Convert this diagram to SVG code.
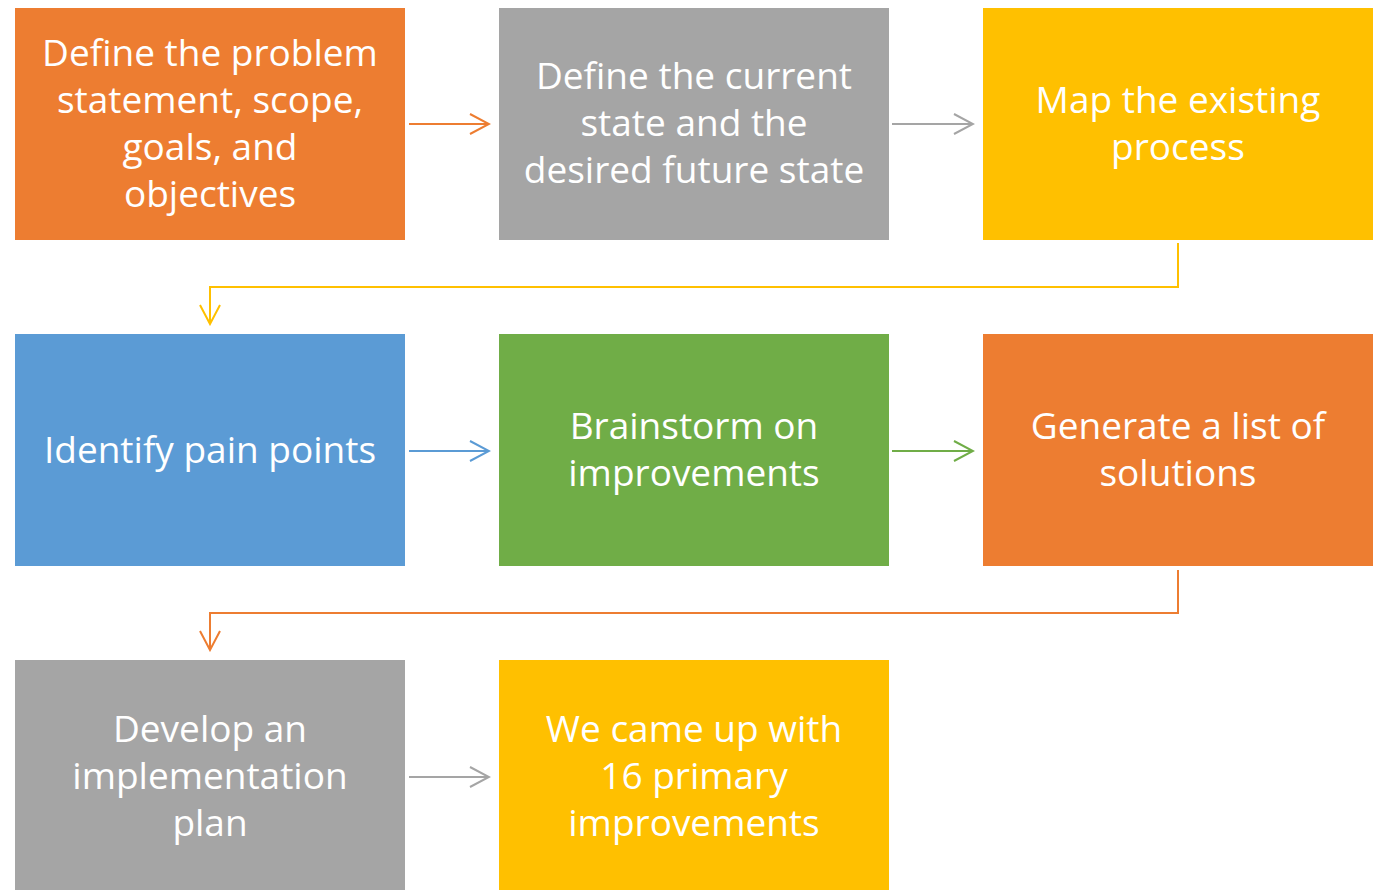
<svg xmlns="http://www.w3.org/2000/svg" width="1384" height="890" viewBox="0 0 1384 890">
  <style>
    .lbl { font-family: "Open Sans", "Liberation Sans", sans-serif; font-size: 37px; fill: #ffffff; text-anchor: middle; }
    .conn { fill: none; stroke-width: 2; }
  </style>
  <defs>
    <marker id="ah-orange" viewBox="0 0 22 22" refX="20" refY="11" markerWidth="22" markerHeight="22" markerUnits="userSpaceOnUse" orient="auto">
      <path d="M1,1 L20,11 L1,21" fill="none" stroke="#ED7D31" stroke-width="2"/>
    </marker>
    <marker id="ah-gray" viewBox="0 0 22 22" refX="20" refY="11" markerWidth="22" markerHeight="22" markerUnits="userSpaceOnUse" orient="auto">
      <path d="M1,1 L20,11 L1,21" fill="none" stroke="#A5A5A5" stroke-width="2"/>
    </marker>
    <marker id="ah-yellow" viewBox="0 0 22 22" refX="20" refY="11" markerWidth="22" markerHeight="22" markerUnits="userSpaceOnUse" orient="auto">
      <path d="M1,1 L20,11 L1,21" fill="none" stroke="#FFC000" stroke-width="2"/>
    </marker>
    <marker id="ah-blue" viewBox="0 0 22 22" refX="20" refY="11" markerWidth="22" markerHeight="22" markerUnits="userSpaceOnUse" orient="auto">
      <path d="M1,1 L20,11 L1,21" fill="none" stroke="#5B9BD5" stroke-width="2"/>
    </marker>
    <marker id="ah-green" viewBox="0 0 22 22" refX="20" refY="11" markerWidth="22" markerHeight="22" markerUnits="userSpaceOnUse" orient="auto">
      <path d="M1,1 L20,11 L1,21" fill="none" stroke="#70AD47" stroke-width="2"/>
    </marker>
  </defs>

  <rect width="1384" height="890" fill="#ffffff"/>

  <!-- Row 1 -->
  <g id="define-problem">
    <rect x="15" y="8" width="390" height="232" fill="#ED7D31"/>
    <text class="lbl" x="210" y="66">Define the problem</text>
    <text class="lbl" x="210" y="113">statement, scope,</text>
    <text class="lbl" x="210" y="160">goals, and</text>
    <text class="lbl" x="210" y="207">objectives</text>
  </g>
  <g id="define-state">
    <rect x="499" y="8" width="390" height="232" fill="#A5A5A5"/>
    <text class="lbl" x="694" y="89">Define the current</text>
    <text class="lbl" x="694" y="136">state and the</text>
    <text class="lbl" x="694" y="183">desired future state</text>
  </g>
  <g id="map-process">
    <rect x="983" y="8" width="390" height="232" fill="#FFC000"/>
    <text class="lbl" x="1178" y="113">Map the existing</text>
    <text class="lbl" x="1178" y="160">process</text>
  </g>

  <!-- Row 2 -->
  <g id="pain-points">
    <rect x="15" y="334" width="390" height="232" fill="#5B9BD5"/>
    <text class="lbl" x="210" y="463">Identify pain points</text>
  </g>
  <g id="brainstorm">
    <rect x="499" y="334" width="390" height="232" fill="#70AD47"/>
    <text class="lbl" x="694" y="439">Brainstorm on</text>
    <text class="lbl" x="694" y="486">improvements</text>
  </g>
  <g id="solutions">
    <rect x="983" y="334" width="390" height="232" fill="#ED7D31"/>
    <text class="lbl" x="1178" y="439">Generate a list of</text>
    <text class="lbl" x="1178" y="486">solutions</text>
  </g>

  <!-- Row 3 -->
  <g id="implementation-plan">
    <rect x="15" y="660" width="390" height="232" fill="#A5A5A5"/>
    <text class="lbl" x="210" y="742">Develop an</text>
    <text class="lbl" x="210" y="789">implementation</text>
    <text class="lbl" x="210" y="836">plan</text>
  </g>
  <g id="primary-improvements">
    <rect x="499" y="660" width="390" height="232" fill="#FFC000"/>
    <text class="lbl" x="694" y="742">We came up with</text>
    <text class="lbl" x="694" y="789">16 primary</text>
    <text class="lbl" x="694" y="836">improvements</text>
  </g>

  <!-- Connectors -->
  <g id="connectors">
    <path class="conn" d="M409,124 H489" stroke="#ED7D31" marker-end="url(#ah-orange)"/>
    <path class="conn" d="M892,124 H973" stroke="#A5A5A5" marker-end="url(#ah-gray)"/>
    <path class="conn" d="M1178,243 V287 H210 V324" stroke="#FFC000" marker-end="url(#ah-yellow)"/>
    <path class="conn" d="M409,451 H489" stroke="#5B9BD5" marker-end="url(#ah-blue)"/>
    <path class="conn" d="M892,451 H973" stroke="#70AD47" marker-end="url(#ah-green)"/>
    <path class="conn" d="M1178,570 V613 H210 V650" stroke="#ED7D31" marker-end="url(#ah-orange)"/>
    <path class="conn" d="M409,777 H489" stroke="#A5A5A5" marker-end="url(#ah-gray)"/>
  </g>
</svg>
